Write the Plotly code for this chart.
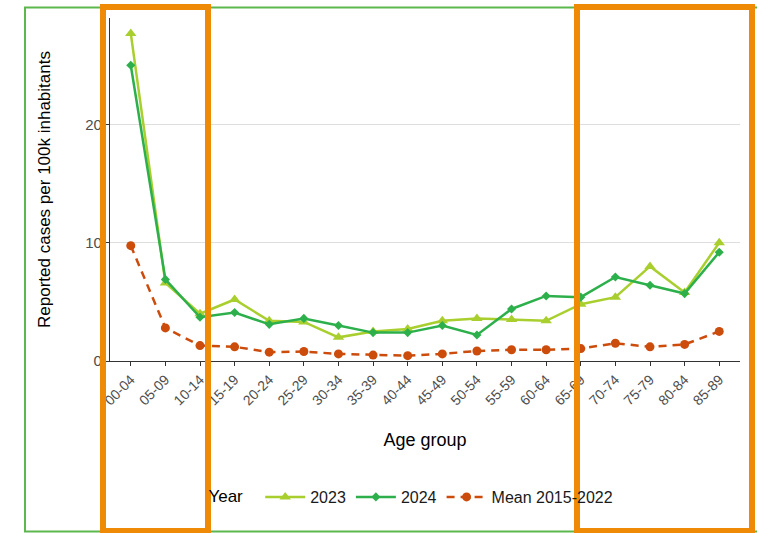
import plotly.graph_objects as go

age_groups = ["00-04", "05-09", "10-14", "15-19", "20-24", "25-29", "30-34", "35-39", "40-44",
              "45-49", "50-54", "55-59", "60-64", "65-69", "70-74", "75-79", "80-84", "85-89"]
cases_2023 = [27.7, 6.6, 4.0, 5.2, 3.4, 3.3, 2.0, 2.5, 2.7, 3.4, 3.6, 3.5, 3.4, 4.8, 5.4, 8.0, 5.8, 10.0]
cases_2024 = [25.0, 6.9, 3.7, 4.1, 3.1, 3.6, 3.0, 2.4, 2.4, 3.0, 2.2, 4.4, 5.5, 5.4, 7.1, 6.4, 5.7, 9.2]
cases_mean = [9.75, 2.8, 1.3, 1.2, 0.75, 0.8, 0.6, 0.5, 0.45, 0.6, 0.85, 0.95, 0.95, 1.05, 1.5, 1.2, 1.4, 2.5]

W, H = 757, 533
L, R, T, B = 110, 740, 18, 361

fig = go.Figure()
fig.add_trace(go.Scatter(x=age_groups, y=cases_2023, name="2023", mode="lines+markers",
                         line=dict(color="#A9CF2E", width=2.5),
                         marker=dict(symbol="triangle-up", size=10, color="#A9CF2E")))
fig.add_trace(go.Scatter(x=age_groups, y=cases_2024, name="2024", mode="lines+markers",
                         line=dict(color="#2DB04B", width=2.5),
                         marker=dict(symbol="diamond", size=7, color="#2DB04B")))
fig.add_trace(go.Scatter(x=age_groups, y=cases_mean, name="Mean 2015-2022", mode="lines+markers",
                         line=dict(color="#CC4C0C", width=2.5, dash="8px,6px"),
                         marker=dict(symbol="circle", size=9, color="#CC4C0C")))

def px_x(p):
    return (p - L) / (R - L)

def px_y(p):
    return (B - p) / (B - T)

shapes = []
# green frame
shapes.append(dict(type="rect", xref="paper", yref="paper", x0=px_x(25), x1=px_x(770),
                   y0=px_y(531.5), y1=px_y(7.5), line=dict(color="#5CB84D", width=2),
                   fillcolor="rgba(0,0,0,0)", layer="above"))
# orange boxes
for x0, x1 in [(103, 208), (577, 752)]:
    shapes.append(dict(type="rect", xref="paper", yref="paper", x0=px_x(x0), x1=px_x(x1),
                       y0=px_y(531), y1=px_y(7), line=dict(color="#EE8A05", width=6),
                       fillcolor="rgba(0,0,0,0)", layer="above"))

fig.update_layout(
    width=W, height=H,
    margin=dict(l=L, r=W - R, t=T, b=H - B, autoexpand=False),
    paper_bgcolor="white", plot_bgcolor="white",
    font=dict(family="Liberation Sans, Arial, sans-serif", color="#000000"),
    xaxis=dict(type="category", range=[-0.6, 17.6], showgrid=False,
               showline=True, linecolor="#333333", linewidth=1.2,
               ticks="outside", ticklen=4, tickcolor="#333333",
               tickangle=-45, tickfont=dict(size=14, color="#4D4D4D"),
               title=dict(text="Age group", font=dict(size=18, color="#000"), standoff=26)),
    yaxis=dict(range=[0, 29], tickvals=[0, 10, 20], showgrid=True, gridcolor="#DEDEDE", gridwidth=1.2,
               zeroline=False, showline=True, linecolor="#333333", linewidth=1.2,
               ticks="outside", ticklen=4, tickcolor="#333333",
               tickfont=dict(size=15, color="#4D4D4D"),
               title=dict(text="Reported cases per 100k inhabitants", font=dict(size=17, color="#000"), standoff=30)),
    legend=dict(orientation="h", x=0.48, xanchor="center", y=px_y(497), yanchor="middle",
                bgcolor="rgba(0,0,0,0)",
                title=dict(text="Year  ", font=dict(size=17, color="#000")),
                font=dict(size=16, color="#1A1A1A"), itemwidth=40),
    shapes=shapes,
)

fig.write_html("out.html", config={"displayModeBar": False},
               post_script="document.body.style.margin='0';document.body.style.overflow='hidden';")
